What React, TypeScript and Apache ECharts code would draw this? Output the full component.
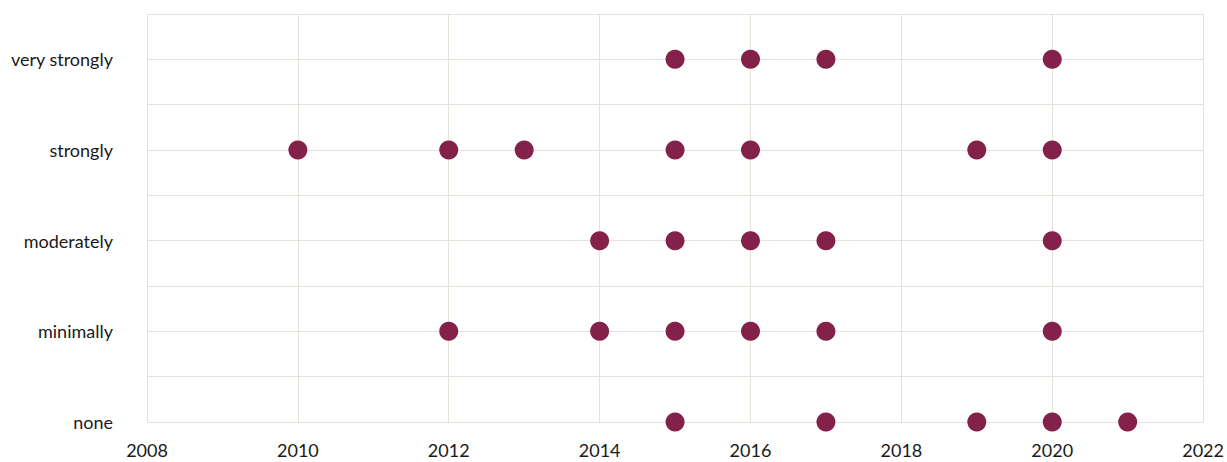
import React, { useEffect, useRef } from "react";
import * as echarts from "echarts";

const levels = ["none", "minimally", "moderately", "strongly", "very strongly"];
const veryStrongly = [2015, 2016, 2017, 2020];
const strongly = [2010, 2012, 2013, 2015, 2016, 2019, 2020];
const moderately = [2014, 2015, 2016, 2017, 2020];
const minimally = [2012, 2014, 2015, 2016, 2017, 2020];
const none = [2015, 2017, 2019, 2020, 2021];

const byLevel: number[][] = [none, minimally, moderately, strongly, veryStrongly];

export default function App() {
  const ref = useRef<HTMLDivElement>(null);
  useEffect(() => {
    document.body.style.margin = "0";
    if (!ref.current) return;
    const chart = echarts.init(ref.current, null, { renderer: "svg" });
    const data: number[][] = [];
    byLevel.forEach((years, i) => years.forEach((y) => data.push([y, i])));
    const grid = "#e6e1d9";
    const font = "Lato";
    chart.setOption({
      animation: false,
      grid: { left: 147, right: 22, top: 14, bottom: 40, containLabel: false },
      xAxis: {
        type: "value",
        min: 2008,
        max: 2022,
        interval: 2,
        axisLine: { show: false },
        axisTick: { show: false },
        axisLabel: {
          color: "#1a1a1a",
          fontSize: 18,
          fontFamily: font,
          margin: 19,
          formatter: (v: number) => String(v),
        },
        splitLine: { show: true, lineStyle: { color: grid, width: 1 } },
      },
      yAxis: {
        type: "value",
        min: 0,
        max: 4.5,
        interval: 0.5,
        axisLine: { show: false },
        axisTick: { show: false },
        axisLabel: {
          color: "#1a1a1a",
          fontSize: 18,
          fontFamily: font,
          margin: 34,
          formatter: (v: number) => (Number.isInteger(v) ? levels[v] ?? "" : ""),
        },
        splitLine: { show: true, lineStyle: { color: grid, width: 1 } },
      },
      series: [
        {
          type: "scatter",
          data,
          symbol: "circle",
          symbolSize: 19,
          itemStyle: { color: "#84214a", opacity: 1 },
        },
      ],
    });
    return () => chart.dispose();
  }, []);
  return <div ref={ref} style={{ width: 1227, height: 462 }} />;
}
